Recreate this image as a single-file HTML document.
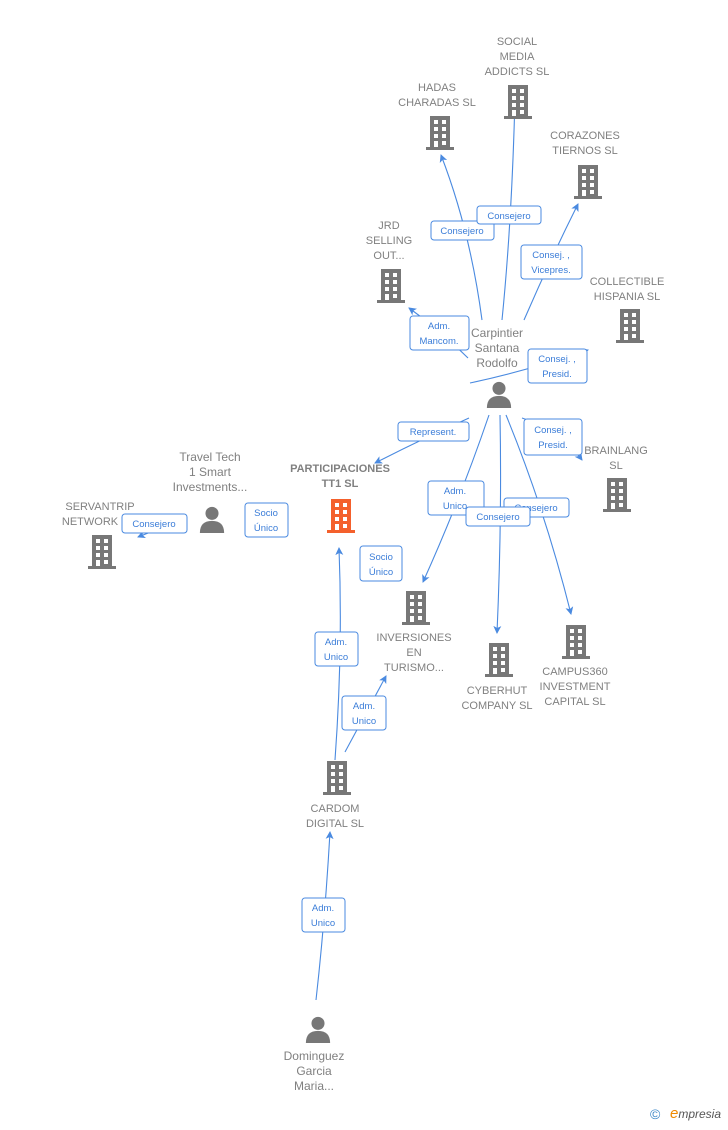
<!DOCTYPE html>
<html><head><meta charset="utf-8"><style>
body{margin:0;background:#fff;}
svg text{font-family:"Liberation Sans",sans-serif;}
.n{fill:#808080;font-size:11px;text-anchor:middle;}
.l{fill:#3b7dd8;font-size:9.5px;text-anchor:middle;}
.e{fill:none;stroke:#4a8ae0;stroke-width:1.1;}
.b{fill:#fff;stroke:#4a8ae0;stroke-width:1;}
</style></head><body>
<svg width="728" height="1125" viewBox="0 0 728 1125">
<defs>
<symbol id="bd" viewBox="0 0 30 34">
<rect x="5" y="0" width="20" height="32" fill="currentColor"/>
<rect x="1" y="31" width="28" height="3" fill="currentColor"/>
<g fill="#fff">
<rect x="9" y="4" width="4" height="4"/><rect x="17" y="4" width="4" height="4"/>
<rect x="9" y="11" width="4" height="4"/><rect x="17" y="11" width="4" height="4"/>
<rect x="9" y="18" width="4" height="4"/><rect x="17" y="18" width="4" height="4"/>
<rect x="9" y="25" width="4" height="6"/><rect x="17" y="25" width="4" height="4"/>
</g></symbol>
<symbol id="ps" viewBox="0 0 30 30">
<circle cx="15" cy="9" r="7" fill="#777"/>
<path d="M2 30 Q2 17 15 17 Q28 17 28 30 Z" fill="#777"/>
</symbol>
<marker id="a" markerWidth="8" markerHeight="8" refX="7" refY="4" orient="auto" markerUnits="userSpaceOnUse"><path d="M0 0 L8 4 L0 8 L2 4Z" fill="#4a8ae0"/></marker>
</defs>

<!-- edges -->
<path class="e" d="M482 320 Q470 230 441 155" marker-end="url(#a)"/>
<path class="e" d="M502 320 Q512 220 515 97" marker-end="url(#a)"/>
<path class="e" d="M524 320 Q550 260 578 204" marker-end="url(#a)"/>
<path class="e" d="M468 358 Q440 330 409 308" marker-end="url(#a)"/>
<path class="e" d="M470 383 Q530 370 588 350" marker-end="url(#a)"/>
<path class="e" d="M469 418 Q420 440 375 463" marker-end="url(#a)"/>
<path class="e" d="M522 418 Q560 430 582 460" marker-end="url(#a)"/>
<path class="e" d="M489 415 Q460 500 423 582" marker-end="url(#a)"/>
<path class="e" d="M500 415 Q502 520 497 633" marker-end="url(#a)"/>
<path class="e" d="M506 415 Q545 510 571 614" marker-end="url(#a)"/>
<path class="e" d="M187 520 Q160 528 138 537" marker-end="url(#a)"/>
<path class="e" d="M335 760 Q343 650 339 548" marker-end="url(#a)"/>
<path class="e" d="M345 752 Q365 715 386 676" marker-end="url(#a)"/>
<path class="e" d="M316 1000 Q325 920 330 832" marker-end="url(#a)"/>

<!-- nodes -->
<g color="#777">
<use href="#bd" x="503" y="85" width="30" height="34"/>
<use href="#bd" x="425" y="116" width="30" height="34"/>
<use href="#bd" x="573" y="165" width="30" height="34"/>
<use href="#bd" x="376" y="269" width="30" height="34"/>
<use href="#bd" x="615" y="309" width="30" height="34"/>
<use href="#bd" x="602" y="478" width="30" height="34"/>
<use href="#bd" x="87" y="535" width="30" height="34"/>
<use href="#bd" x="401" y="591" width="30" height="34"/>
<use href="#bd" x="484" y="643" width="30" height="34"/>
<use href="#bd" x="561" y="625" width="30" height="34"/>
<use href="#bd" x="322" y="761" width="30" height="34"/>
</g>
<g color="#f4602c"><use href="#bd" x="326" y="499" width="30" height="34"/></g>
<use href="#ps" x="485" y="380" width="28" height="28"/>
<use href="#ps" x="198" y="505" width="28" height="28"/>
<use href="#ps" x="304" y="1015" width="28" height="28"/>

<!-- node labels -->
<g class="n">
<text x="517" y="45">SOCIAL</text><text x="517" y="60">MEDIA</text><text x="517" y="75">ADDICTS SL</text>
<text x="437" y="91">HADAS</text><text x="437" y="106">CHARADAS SL</text>
<text x="585" y="139">CORAZONES</text><text x="585" y="154">TIERNOS SL</text>
<text x="389" y="229">JRD</text><text x="389" y="244">SELLING</text><text x="389" y="259">OUT...</text>
<text x="627" y="285">COLLECTIBLE</text><text x="627" y="300">HISPANIA SL</text>
<text x="497" y="337" style="font-size:12px">Carpintier</text><text x="497" y="352" style="font-size:12px">Santana</text><text x="497" y="367" style="font-size:12px">Rodolfo</text>
<text x="616" y="454">BRAINLANG</text><text x="616" y="469">SL</text>
<text x="340" y="472" style="font-weight:bold">PARTICIPACIONES</text><text x="340" y="487" style="font-weight:bold">TT1  SL</text>
<text x="210" y="461" style="font-size:12px">Travel Tech</text><text x="210" y="476" style="font-size:12px">1 Smart</text><text x="210" y="491" style="font-size:12px">Investments...</text>
<text x="100" y="510">SERVANTRIP</text><text x="90" y="525">NETWORK</text>
<text x="414" y="641">INVERSIONES</text><text x="414" y="656">EN</text><text x="414" y="671">TURISMO...</text>
<text x="497" y="694">CYBERHUT</text><text x="497" y="709">COMPANY  SL</text>
<text x="575" y="675">CAMPUS360</text><text x="575" y="690">INVESTMENT</text><text x="575" y="705">CAPITAL  SL</text>
<text x="335" y="812">CARDOM</text><text x="335" y="827">DIGITAL  SL</text>
<text x="314" y="1060" style="font-size:12px">Dominguez</text><text x="314" y="1075" style="font-size:12px">Garcia</text><text x="314" y="1090" style="font-size:12px">Maria...</text>
</g>

<!-- edge labels -->
<g>
<rect class="b" x="431" y="221" width="63" height="19" rx="3"/><text class="l" x="462" y="234">Consejero</text>
<rect class="b" x="477" y="206" width="64" height="18" rx="3"/><text class="l" x="509" y="219">Consejero</text>
<rect class="b" x="521" y="245" width="61" height="34" rx="3"/><text class="l" x="551" y="258">Consej. ,</text><text class="l" x="551" y="273">Vicepres.</text>
<rect class="b" x="410" y="316" width="59" height="34" rx="3"/><text class="l" x="439" y="329">Adm.</text><text class="l" x="439" y="344">Mancom.</text>
<rect class="b" x="528" y="349" width="59" height="34" rx="3"/><text class="l" x="557" y="362">Consej. ,</text><text class="l" x="557" y="377">Presid.</text>
<rect class="b" x="398" y="422" width="71" height="19" rx="3"/><text class="l" x="433" y="435">Represent.</text>
<rect class="b" x="524" y="419" width="58" height="36" rx="3"/><text class="l" x="553" y="433">Consej. ,</text><text class="l" x="553" y="448">Presid.</text>
<rect class="b" x="428" y="481" width="56" height="34" rx="3"/><text class="l" x="455" y="494">Adm.</text><text class="l" x="455" y="509">Unico</text>
<rect class="b" x="504" y="498" width="65" height="19" rx="3"/><text class="l" x="536" y="511">Consejero</text>
<rect class="b" x="466" y="507" width="64" height="19" rx="3"/><text class="l" x="498" y="520">Consejero</text>
<rect class="b" x="122" y="514" width="65" height="19" rx="3"/><text class="l" x="154" y="527">Consejero</text>
<rect class="b" x="245" y="503" width="43" height="34" rx="3"/><text class="l" x="266" y="516">Socio</text><text class="l" x="266" y="531">Único</text>
<rect class="b" x="360" y="546" width="42" height="35" rx="3"/><text class="l" x="381" y="560">Socio</text><text class="l" x="381" y="575">Único</text>
<rect class="b" x="315" y="632" width="43" height="34" rx="3"/><text class="l" x="336" y="645">Adm.</text><text class="l" x="336" y="660">Unico</text>
<rect class="b" x="342" y="696" width="44" height="34" rx="3"/><text class="l" x="364" y="709">Adm.</text><text class="l" x="364" y="724">Unico</text>
<rect class="b" x="302" y="898" width="43" height="34" rx="3"/><text class="l" x="323" y="911">Adm.</text><text class="l" x="323" y="926">Unico</text>
</g>

<text x="650" y="1119" style="fill:#3b86c6;font-size:14px">©</text>
<text x="670" y="1118" style="fill:#555;font-size:12px;font-style:italic"><tspan style="fill:#f08a00;font-size:15px">e</tspan>mpresia</text>
</svg>
</body></html>
